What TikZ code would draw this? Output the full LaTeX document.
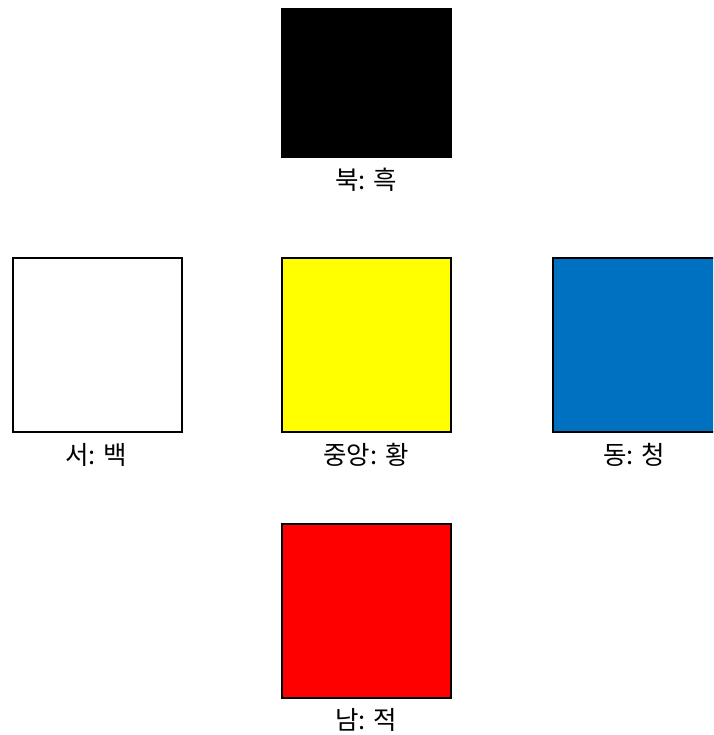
\documentclass[tikz,border=0pt]{standalone}
\usepackage{fontspec}
\setmainfont{Noto Sans CJK KR}
\definecolor{eastblue}{HTML}{0070C0}
\definecolor{centeryellow}{HTML}{FFFF00}
\definecolor{southred}{HTML}{FF0000}
\tikzset{
  colorbox/.style={draw=black, line width=2.6pt, minimum width=169pt, minimum height=174pt, inner sep=0pt},
  caption/.style={font=\fontsize{25.5pt}{28pt}\selectfont, inner sep=0pt, anchor=center}
}
\begin{document}
\begin{tikzpicture}[x=1pt,y=1pt]
\useasboundingbox (0,0) rectangle (713,735);
\begin{scope}
\clip (0,0) rectangle (713,735);
\node[colorbox, fill=black, minimum height=148pt] (north) at (366.5,652) {};
\node[colorbox, fill=white] (west) at (97.5,390) {};
\node[colorbox, fill=centeryellow] (center) at (366.5,390) {};
\node[colorbox, fill=eastblue] (east) at (637.5,390) {};
\node[colorbox, fill=southred] (south) at (366.5,124) {};
\end{scope}
\node[caption] (northlabel) at (366,555) {북: 흑};
\node[caption] (westlabel) at (96,280) {서: 백};
\node[caption] (centerlabel) at (366,280) {중앙: 황};
\node[caption] (eastlabel) at (634,280) {동: 청};
\node[caption] (southlabel) at (366,15) {남: 적};
\end{tikzpicture}
\end{document}
